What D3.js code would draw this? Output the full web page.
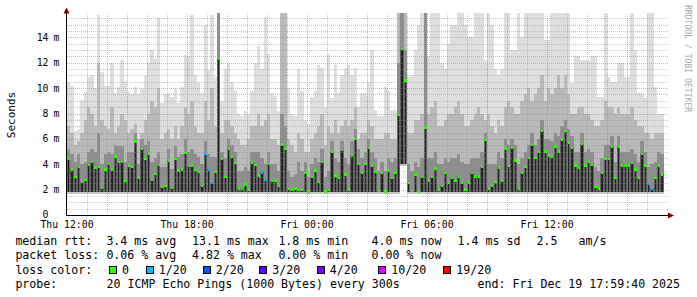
<!DOCTYPE html>
<html>
<head>
<meta charset="utf-8">
<script src="https://cdn.jsdelivr.net/npm/d3@7"></script>
<style>
  body { margin: 0; background: #fff; }
  svg { display: block; }
  text { font-family: "DejaVu Sans Mono", monospace; fill: #000; }
</style>
</head>
<body>
<div id="chart"></div>
<script>
// 10 minute bins starting Thu 12:00, values in ms
const medianRtt = [
  4.4,3.6,3.0,3.8,2.6,2.75,3.95,4.2,3.7,3.8,2.15,3.6,4.0,3.6,4.6,4.2,4.2,2.7,3.9,3.8,5.8,2.9,5.2,4.4,4.85,2.75,3.25,3.95,2.2,2.3,4.3,2.15,4.4,3.5,3.6,4.9,3.85,3.9,3.55,3.4,2.3,4.8,3.6,2.55,3.4,
  12.3,4.4,3.0,5.2,4.6,4.1,2.1,2.1,2.4,2.0,4.15,3.95,3.1,3.35,2.75,4.0,2.7,2.7,2.3,5.55,5.2,2.05,2.0,2.1,1.95,1.95,3.3,1.85,3.0,3.5,2.6,4.2,1.85,1.95,5.0,3.1,2.9,5.1,3.2,2.0,4.7,6.0,4.0,3.3,4.0,
  5.3,3.9,3.4,1.9,3.3,1.85,3.5,2.9,3.3,7.9,13.1,10.6,2.5,1.9,3.2,1.85,3.0,6.9,2.7,3.0,3.65,2.0,2.3,3.3,2.5,2.9,2.7,3.05,2.5,2.0,2.55,3.3,3.0,3.05,3.8,5.9,2.1,2.3,2.6,3.75,2.7,5.25,3.85,5.3,4.3,
  2.1,3.3,3.8,4.5,5.5,4.5,4.95,6.6,5.0,4.7,4.6,5.4,5.0,5.95,6.6,5.7,5.3,3.9,3.7,5.6,3.9,4.2,3.95,2.2,2.1,3.3,4.4,4.4,5.4,2.9,5.4,3.9,3.9,3.9,4.1,3.6,2.9,4.8,3.9,2.45,2.1,2.9,3.9,3.2
];
// upper edge of the dark smoke
const smokeQ3 = [
  5.2,4.8,4.2,4.8,4.0,4.2,5.0,5.2,5.0,6.5,4.0,4.8,5.0,4.8,5.5,5.4,5.4,4.2,5.0,5.0,6.5,4.0,6.0,5.5,5.8,4.2,4.5,5.0,3.8,3.8,5.2,3.6,5.4,4.6,4.8,6.0,5.0,5.2,4.8,4.6,4.0,5.8,4.8,4.6,4.6,
  15.9,5.0,4.5,6.0,5.5,5.0,3.5,3.5,3.8,3.5,5.0,5.0,5.0,4.5,4.0,5.0,4.0,4.0,3.5,8.0,7.0,3.5,3.0,3.2,4.2,3.5,4.2,3.0,4.0,4.5,4.2,5.2,3.0,3.5,5.8,4.5,4.2,5.8,4.5,4.0,5.8,6.8,5.2,4.5,5.0,
  6.0,5.0,4.5,3.5,4.2,3.5,4.5,4.2,4.5,12.0,15.9,13.0,4.0,3.5,4.2,3.8,4.5,15.9,4.5,4.5,5.0,4.0,4.0,4.5,4.2,4.5,4.5,4.8,4.2,4.0,4.0,4.5,4.5,4.5,5.0,6.5,4.0,4.0,4.0,5.0,4.5,6.0,5.5,6.0,5.5,
  4.0,4.5,5.0,5.5,6.5,5.5,6.0,7.5,6.0,6.0,5.8,6.5,6.2,7.0,7.5,6.8,6.2,5.0,5.0,6.5,5.0,5.2,5.0,3.8,3.5,4.5,5.5,5.5,6.2,4.2,6.2,5.0,5.0,5.0,5.2,4.8,4.2,5.8,5.0,3.8,4.0,4.2,5.0,4.8
];
// upper edge of the medium smoke
const smokeP90 = [
  7.0,6.5,5.5,5.8,6.5,7.5,8.5,8.0,7.0,12.0,7.5,7.0,6.8,8.5,6.5,7.0,8.0,7.5,6.5,6.8,7.2,6.0,6.5,7.5,8.0,9.0,8.5,10.0,6.0,6.5,6.8,6.0,7.0,6.0,7.0,8.5,8.0,9.0,7.0,6.5,6.5,9.0,7.5,10.0,7.0,
  15.9,6.5,7.5,7.5,7.0,6.5,6.0,5.5,5.5,6.0,7.0,7.0,8.0,7.0,7.5,8.0,6.0,6.0,5.5,15.9,15.9,6.0,5.5,5.0,6.5,6.0,5.0,5.0,6.0,6.5,7.0,8.0,5.5,7.0,6.5,7.5,6.5,7.0,7.5,7.0,7.5,8.5,6.0,6.5,6.5,
  7.5,7.0,6.0,6.0,6.0,6.5,6.5,6.0,6.0,15.9,15.9,15.9,6.5,6.5,7.5,7.5,8.0,15.9,8.0,8.5,9.0,7.0,7.0,7.5,8.0,8.0,8.5,9.0,8.0,7.0,7.0,7.5,8.0,8.5,8.0,7.5,8.0,7.0,6.5,7.5,7.0,8.5,9.0,8.5,8.0,
  8.0,9.0,9.5,10.0,9.0,9.5,10.0,11.0,9.0,10.0,9.5,10.0,11.0,10.0,11.0,9.5,8.0,8.0,8.5,8.5,8.0,8.0,7.5,7.0,7.0,7.5,9.0,8.5,8.5,8.0,8.5,8.0,8.0,8.0,8.5,7.5,7.0,7.0,6.5,6.5,6.0,6.5,6.5,6.5
];
// slowest ping of each bin
const smokeMax = [
  10.5,10.2,6.6,6.8,9.1,9.7,10.9,11.0,10.0,15.8,11.3,10.2,10.2,12.0,9.6,10.1,12.2,10.6,9.7,9.5,10.1,9.5,9.9,11.0,12.0,13.0,12.3,15.5,8.8,9.5,9.6,9.3,9.9,8.8,10.1,12.6,12.5,15.8,11.0,10.4,9.6,15.0,11.4,15.8,10.9,
  15.9,9.0,11.5,12.0,10.5,9.8,8.0,7.8,8.2,8.0,9.8,12.0,13.3,11.5,15.6,12.7,9.6,9.4,8.2,15.9,15.9,10.0,8.0,7.8,11.5,9.8,7.5,7.2,9.3,9.8,11.8,11.6,8.5,12.7,9.2,11.8,9.6,11.0,11.6,11.8,11.0,11.6,8.5,9.6,9.6,
  10.5,13.0,8.3,7.8,7.8,10.1,9.8,8.3,8.3,15.9,15.9,15.9,10.9,11.0,13.0,15.0,15.9,15.9,12.5,15.9,15.9,15.9,12.0,11.5,13.5,15.0,15.0,15.9,15.9,15.0,14.0,14.0,15.9,15.9,15.9,12.2,15.9,15.0,11.5,11.0,11.5,15.9,15.9,13.0,13.0,
  15.9,14.0,15.9,15.9,15.9,15.9,15.9,15.9,13.8,13.8,15.9,15.9,15.9,15.9,15.9,15.9,10.4,12.5,12.5,12.2,12.2,12.2,12.5,12.5,9.3,9.3,15.9,10.9,10.5,10.5,12.0,12.0,10.9,10.9,15.9,13.0,9.6,9.6,9.2,15.9,15.9,10.1,8.0,8.0
];
const smokeFloor = 1.8;
const raisedFloor = [[100, 4.0], [101, 4.0]];
const lossBins = [[41, 1], [42, 1], [43, 1], [58, 1], [59, 1], [174, 1], [175, 1]];

const lossLabels = ["0", "1/20", "2/20", "3/20", "4/20", "10/20", "19/20"];
const lossColors = ["#26ff00", "#00b8ff", "#0059ff", "#5e00ff", "#7e00ff", "#dd00ff", "#ff0000"];
const yTicks = [0, 2, 4, 6, 8, 10, 12, 14];
const xTickLabels = ["Thu 12:00", "Thu 18:00", "Fri 00:00", "Fri 06:00", "Fri 12:00"];
const rttStats = [["3.4", "ms avg"], ["13.1", "ms max"], ["1.8", "ms min"], ["4.0", "ms now"], ["1.4", "ms sd"]];
const lossStats = [["0.06", "% avg"], ["4.82", "% max"], ["0.00", "% min"], ["0.00", "% now"]];
const amPerSec = "2.5";

const width = 697, height = 297;
const svg = d3.select("#chart").append("svg")
  .attr("width", width).attr("height", height);

const start = new Date(2025, 11, 18, 12, 0, 0);
const end = new Date(2025, 11, 19, 18, 0, 0);
const step = 10 * 60 * 1000;
const x = d3.scaleTime().domain([start, end]).range([67, 667]);
const y = d3.scaleLinear().domain([0, 16]).range([215, 12]);

const floorMap = new Map(raisedFloor);
const lossMap = new Map(lossBins);
const bins = medianRtt.map((m, i) => {
  const t = new Date(+start + i * step);
  const lo = floorMap.has(i) ? floorMap.get(i) : smokeFloor;
  const q3 = Math.max(smokeQ3[i], m);
  const p90 = Math.max(smokeP90[i], q3);
  const top = Math.max(smokeMax[i], p90);
  return { i, t, t2: new Date(+t + step), med: m, lo, q3, p90, top, loss: lossMap.get(i) || 0 };
});

const plot = svg.append("g").attr("shape-rendering", "crispEdges");

// smoke bands, lightest first
const bands = [
  { from: d => d.p90, to: d => d.top, color: "#dedede" },
  { from: d => d.q3, to: d => d.p90, color: "#b9b9b9" },
  { from: d => d.med, to: d => d.q3, color: "#8e8e8e" },
  { from: d => d.lo, to: d => d.med, color: "#626262" },
  { from: d => d.lo - 0.15, to: d => d.lo, color: "#c8c8c8" }
];
bands.forEach(b => {
  plot.append("g").selectAll("rect").data(bins).join("rect")
    .attr("x", d => x(d.t))
    .attr("width", d => x(d.t2) - x(d.t))
    .attr("y", d => y(b.to(d)))
    .attr("height", d => Math.max(0, y(b.from(d)) - y(b.to(d))))
    .attr("fill", b.color);
});

// dark bars under the median
plot.append("g").selectAll("rect").data(bins).join("rect")
  .attr("x", d => x(d.t) + 1)
  .attr("width", 1.3)
  .attr("y", d => y(d.med))
  .attr("height", d => y(d.lo) - y(d.med))
  .attr("fill", "#222");

// grid on top of the smoke
const grid = svg.append("g").attr("shape-rendering", "crispEdges").attr("stroke-dasharray", "1,1");
const minorY = d3.range(0.5, 16, 0.5).filter(v => v % 2 !== 0);
grid.selectAll(".hminor").data(minorY).join("line")
  .attr("x1", 67).attr("x2", 668)
  .attr("y1", d => Math.round(y(d)) + 0.5).attr("y2", d => Math.round(y(d)) + 0.5)
  .attr("stroke", "rgba(143,143,143,0.5)");
const hours = d3.timeHour.range(d3.timeHour.offset(start, 1), end);
grid.selectAll(".vminor").data(hours.filter(h => h.getHours() % 3 !== 0)).join("line")
  .attr("x1", d => Math.round(x(d)) + 0.5).attr("x2", d => Math.round(x(d)) + 0.5)
  .attr("y1", 14).attr("y2", 215)
  .attr("stroke", "rgba(143,143,143,0.5)");
grid.selectAll(".hmajor").data(yTicks.filter(v => v > 0)).join("line")
  .attr("x1", 67).attr("x2", 668)
  .attr("y1", d => Math.round(y(d)) + 0.5).attr("y2", d => Math.round(y(d)) + 0.5)
  .attr("stroke", "rgba(222,81,81,0.5)");
grid.selectAll(".vmajor").data(hours.filter(h => h.getHours() % 3 === 0)).join("line")
  .attr("x1", d => Math.round(x(d)) + 0.5).attr("x2", d => Math.round(x(d)) + 0.5)
  .attr("y1", 14).attr("y2", 215)
  .attr("stroke", "rgba(222,81,81,0.5)");

// medians coloured by loss
svg.append("g").attr("shape-rendering", "crispEdges")
  .selectAll("rect").data(bins).join("rect")
  .attr("x", d => x(d.t) + 0.6)
  .attr("y", d => y(d.med) - 1.2)
  .attr("width", 2.4).attr("height", 2.4)
  .attr("fill", d => lossColors[d.loss]);

// axes
const axes = svg.append("g").attr("shape-rendering", "crispEdges");
axes.append("line").attr("x1", 66.5).attr("x2", 66.5).attr("y1", 12).attr("y2", 215).attr("stroke", "#000");
axes.append("line").attr("x1", 66).attr("x2", 669).attr("y1", 215.5).attr("y2", 215.5).attr("stroke", "#000");
svg.append("path").attr("d", "M63.5,13.5 L66.5,7.5 L69.5,13.5 Z").attr("fill", "#7f0000");
svg.append("path").attr("d", "M668,212.5 L674,215.5 L668,218.5 Z").attr("fill", "#7f0000");

// y labels
const yl = svg.append("g").attr("font-size", "9.8px");
yl.selectAll(".num").data(yTicks).join("text")
  .attr("x", 48.5).attr("y", d => d === 0 ? y(d) + 2.6 : y(d) + 3.5)
  .attr("text-anchor", "end").text(d => d);
yl.selectAll(".unit").data(yTicks.filter(v => v > 0)).join("text")
  .attr("x", 53.5).attr("y", d => y(d) + 3.5).text("m");

// x labels
svg.append("g").attr("font-size", "9.8px")
  .selectAll("text").data(xTickLabels).join("text")
  .attr("x", (d, i) => x(d3.timeHour.offset(start, i * 6)))
  .attr("y", 227.6).attr("text-anchor", "middle").text(d => d);

svg.append("text")
  .attr("transform", "translate(15,115) rotate(-90)")
  .attr("text-anchor", "middle").attr("font-size", "11px").text("Seconds");

svg.append("text")
  .attr("transform", "translate(685,5) rotate(90)")
  .attr("font-size", "8.1px").style("fill", "#a8a8a8")
  .text("RRDTOOL / TOBI OETIKER");

// legend
const lg = svg.append("g").attr("font-size", "11.6px").attr("xml:space", "preserve");
const statX = [106.4, 192, 278.4, 371.6, 457.6];
lg.append("text").attr("x", 15.4).attr("y", 245).text("median rtt:");
rttStats.forEach((s, i) => lg.append("text").attr("x", statX[i]).attr("y", 245).text(s[0] + " " + s[1]));
lg.append("text").attr("x", 536.6).attr("y", 245).text(amPerSec);
lg.append("text").attr("x", 578.6).attr("y", 245).text("am/s");
lg.append("text").attr("x", 15.4).attr("y", 259.3).text("packet loss:");
lossStats.forEach((s, i) => lg.append("text").attr("x", statX[i]).attr("y", 259.3).text(s[0] + " " + s[1]));
lg.append("text").attr("x", 15.4).attr("y", 273.6).text("loss color:");
const boxX = [109, 145.7, 202.7, 259.3, 316.7, 378.3, 443.3];
lossLabels.forEach((l, i) => {
  lg.append("rect").attr("x", boxX[i] + 0.5).attr("y", 266.2).attr("width", 7).attr("height", 7)
    .attr("fill", lossColors[i]).attr("stroke", "#000").attr("shape-rendering", "crispEdges");
  lg.append("text").attr("x", boxX[i] + 13).attr("y", 273.6).text(l);
});
lg.append("text").attr("x", 15.4).attr("y", 288).text("probe:");
lg.append("text").attr("x", 106.6).attr("y", 288).text("20 ICMP Echo Pings (1000 Bytes) every 300s");
lg.append("text").attr("x", 477.6).attr("y", 288).text("end: Fri Dec 19 17:59:40 2025");
</script>
</body>
</html>
